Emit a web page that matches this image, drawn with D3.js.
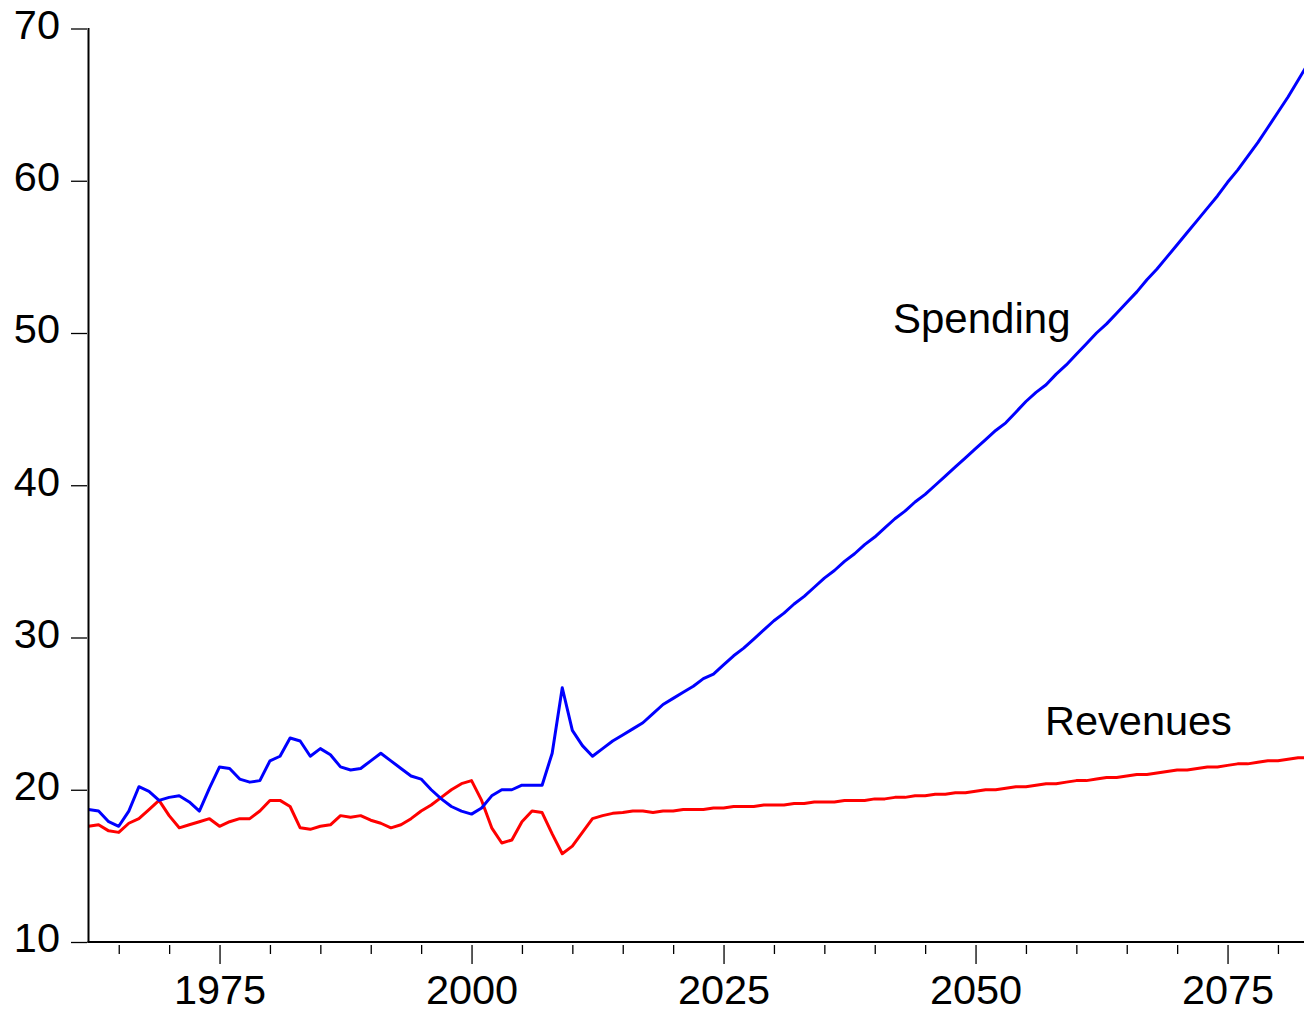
<!DOCTYPE html>
<html>
<head>
<meta charset="utf-8">
<script src="https://cdn.jsdelivr.net/npm/d3@7"></script>
<style>
  html, body { margin: 0; padding: 0; background: #fff; }
  svg { display: block; }
  text { font-family: "Liberation Sans", Arial, sans-serif; }
</style>
</head>
<body>
<svg id="chart" width="1304" height="1015"></svg>
<script>
const firstYear = 1962;
const lastYear = 2083;
const years = d3.range(firstYear, lastYear + 1);

const spending = [
  18.7, 18.6, 17.9, 17.6, 18.6, 20.2, 19.9, 19.3, 19.5, 19.6,
  19.2, 18.6, 20.1, 21.5, 21.4, 20.7, 20.5, 20.6, 21.9, 22.2,
  23.4, 23.2, 22.2, 22.7, 22.3, 21.5, 21.3, 21.4, 21.9, 22.4,
  21.9, 21.4, 20.9, 20.7, 20.0, 19.4, 18.9, 18.6, 18.4, 18.8,
  19.6, 20.0, 20.0, 20.3, 20.3, 20.3, 22.4, 26.7, 23.9, 22.9,
  22.2, 22.7, 23.2, 23.6, 24.0, 24.4, 25.0,
  25.6, 26.0, 26.4, 26.8, 27.3, 27.6, 28.2, 28.8, 29.3, 29.9,
  30.5, 31.1, 31.6, 32.2, 32.7, 33.3, 33.9, 34.4, 35.0, 35.5,
  36.1, 36.6, 37.2, 37.8, 38.3, 38.9, 39.4, 40.0, 40.6, 41.2,
  41.8, 42.4, 43.0, 43.6, 44.1, 44.8, 45.5, 46.1, 46.6, 47.3,
  47.9, 48.6, 49.3, 50.0, 50.6, 51.3, 52.0, 52.7, 53.5, 54.2,
  55.0, 55.8, 56.6, 57.4, 58.2, 59.0, 59.9, 60.7, 61.6, 62.5,
  63.5, 64.5, 65.5, 66.6, 67.7
];

const revenues = [
  17.6, 17.7, 17.3, 17.2, 17.8, 18.1, 18.7, 19.3, 18.3, 17.5,
  17.7, 17.9, 18.1, 17.6, 17.9, 18.1, 18.1, 18.6, 19.3, 19.3,
  18.9, 17.5, 17.4, 17.6, 17.7, 18.3, 18.2, 18.3, 18.0, 17.8,
  17.5, 17.7, 18.1, 18.6, 19.0, 19.5, 20.0, 20.4, 20.6, 19.3,
  17.5, 16.5, 16.7, 17.9, 18.6, 18.5, 17.1, 15.8, 16.3, 17.2,
  18.1, 18.3, 18.45, 18.5, 18.6, 18.6, 18.5,
  18.6, 18.6, 18.7, 18.7, 18.7, 18.8, 18.8, 18.9, 18.9, 18.9,
  19.0, 19.0, 19.0, 19.1, 19.1, 19.2, 19.2, 19.2, 19.3, 19.3,
  19.3, 19.4, 19.4, 19.5, 19.5, 19.6, 19.6, 19.7, 19.7, 19.8,
  19.8, 19.9, 20.0, 20.0, 20.1, 20.2, 20.2, 20.3, 20.4, 20.4,
  20.5, 20.6, 20.6, 20.7, 20.8, 20.8, 20.9, 21.0, 21.0, 21.1,
  21.2, 21.3, 21.3, 21.4, 21.5, 21.5, 21.6, 21.7, 21.7, 21.8,
  21.9, 21.9, 22.0, 22.1, 22.1
];

const yTicks = [10, 20, 30, 40, 50, 60, 70];
const xMajorTicks = [1975, 2000, 2025, 2050, 2075];
const xMinorTicks = [1965, 1970, 1980, 1985, 1990, 1995, 2005, 2010, 2015, 2020,
                     2030, 2035, 2040, 2045, 2055, 2060, 2065, 2070, 2080];
const seriesLabels = ["Spending", "Revenues"];

const svg = d3.select("#chart");
const axisX0 = 88.5, axisY0 = 942;
const pxPerYear = 10.08;

const x = d3.scaleLinear()
  .domain([firstYear, lastYear])
  .range([axisX0, axisX0 + (lastYear - firstYear) * pxPerYear]);
const y = d3.scaleLinear().domain([10, 70]).range([axisY0, 28.5]);

// lines
const line = d3.line().x((d, i) => x(years[i])).y(d => y(d));
svg.append("path").datum(revenues)
  .attr("d", line).attr("fill", "none").attr("stroke", "#ff0000")
  .attr("stroke-width", 3).attr("stroke-linejoin", "round");
svg.append("path").datum(spending)
  .attr("d", line).attr("fill", "none").attr("stroke", "#0000ff")
  .attr("stroke-width", 3).attr("stroke-linejoin", "round");

// y axis
const yAxis = svg.append("g").attr("transform", `translate(${axisX0 - 1.5},0)`)
  .call(d3.axisLeft(y).tickValues(yTicks).tickSize(16).tickPadding(11).tickFormat(d3.format("d")));
yAxis.select(".domain").remove();
yAxis.selectAll(".tick line").attr("stroke", "#000").attr("stroke-width", 1.3);
yAxis.selectAll(".tick text").attr("font-size", 41.5).attr("dy", "0.24em")
  .attr("font-family", "'Liberation Sans', Arial, sans-serif").attr("fill", "#000");

// x axis minor
const xMinor = svg.append("g").attr("transform", `translate(0,${axisY0 + 3})`)
  .call(d3.axisBottom(x).tickValues(xMinorTicks).tickSize(9).tickFormat(""));
xMinor.select(".domain").remove();
xMinor.selectAll(".tick line").attr("stroke", "#000").attr("stroke-width", 1.3);

// x axis major
const xMajor = svg.append("g").attr("transform", `translate(0,${axisY0 + 3})`)
  .call(d3.axisBottom(x).tickValues(xMajorTicks).tickSize(19).tickPadding(11).tickFormat(d3.format("d")));
xMajor.select(".domain").remove();
xMajor.selectAll(".tick line").attr("stroke", "#000").attr("stroke-width", 1.3);
xMajor.selectAll(".tick text").attr("font-size", 41.5)
  .attr("font-family", "'Liberation Sans', Arial, sans-serif").attr("fill", "#000");

// axis lines
svg.append("line").attr("x1", axisX0).attr("x2", axisX0)
  .attr("y1", 28).attr("y2", axisY0 + 1)
  .attr("stroke", "#000").attr("stroke-width", 2);
svg.append("line").attr("x1", axisX0 - 1).attr("x2", 1304)
  .attr("y1", axisY0).attr("y2", axisY0)
  .attr("stroke", "#000").attr("stroke-width", 2);

// series labels
svg.append("text").attr("x", 893).attr("y", 333).attr("font-size", 42)
  .attr("fill", "#000").text(seriesLabels[0]);
svg.append("text").attr("x", 1045).attr("y", 735).attr("font-size", 41.5)
  .attr("fill", "#000").text(seriesLabels[1]);
</script>
</body>
</html>
